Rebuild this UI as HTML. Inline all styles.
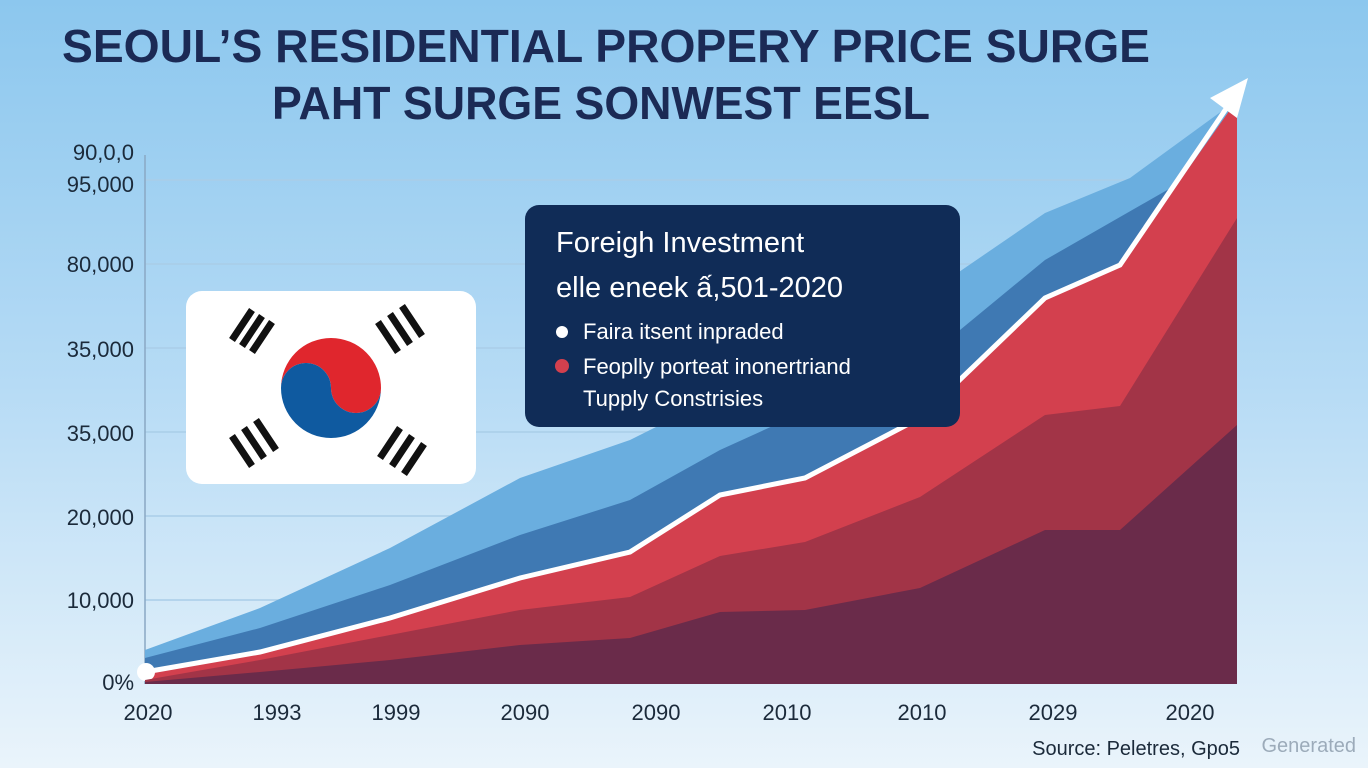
<!DOCTYPE html>
<html><head><meta charset="utf-8"><style>
body{margin:0;width:1368px;height:768px;overflow:hidden;font-family:"Liberation Sans",sans-serif;}
</style></head><body>
<svg width="1368" height="768" viewBox="0 0 1368 768" xmlns="http://www.w3.org/2000/svg">
<defs><linearGradient id="bg" x1="0" y1="0" x2="0" y2="1">
<stop offset="0" stop-color="#8cc7ee"/><stop offset="0.5" stop-color="#b6dbf5"/><stop offset="1" stop-color="#eaf4fb"/></linearGradient></defs>
<rect width="1368" height="768" fill="url(#bg)"/>
<g stroke="#a9cde8" stroke-width="1.5">
<line x1="145" y1="180" x2="1237" y2="180"/><line x1="145" y1="264" x2="1237" y2="264"/>
<line x1="145" y1="348" x2="1237" y2="348"/><line x1="145" y1="432" x2="1237" y2="432"/>
<line x1="145" y1="516" x2="1237" y2="516"/><line x1="145" y1="600" x2="1237" y2="600"/>
</g>
<line x1="145" y1="155" x2="145" y2="684" stroke="#8aa8c4" stroke-width="1.5"/>
<g font-weight="bold" fill="#1b2a55">
<text x="62" y="62" font-size="46" textLength="1088" lengthAdjust="spacingAndGlyphs">SEOUL’S RESIDENTIAL PROPERY PRICE SURGE</text>
<text x="272" y="119" font-size="46" textLength="658" lengthAdjust="spacingAndGlyphs">PAHT SURGE SONWEST EESL</text>
</g>
<g font-size="22" fill="#1b2a3a" text-anchor="end">
<text x="134" y="160">90,0,0</text><text x="134" y="192">95,000</text>
<text x="134" y="272">80,000</text><text x="134" y="357">35,000</text>
<text x="134" y="441">35,000</text><text x="134" y="525">20,000</text>
<text x="134" y="608">10,000</text><text x="134" y="690">0%</text>
</g>
<polygon fill="#6aaedf" points="145,684 145,650 260,608 390,548 520,478 630,440 720,395 830,345 940,285 1045,213 1130,178 1237,100 1237,684"/>
<polygon fill="#3f79b3" points="145,684 145,658 260,628 390,585 520,535 630,500 720,450 830,400 960,330 1045,260 1237,150 1237,684"/>
<polygon fill="#d3404e" points="145,684 145,672 260,652 390,618 520,578 630,552 720,495 805,478 920,418 1045,298 1120,265 1237,100 1237,684"/>
<polyline fill="none" stroke="#fff" stroke-width="5" points="145,672 260,652 390,618 520,578 630,552 720,495 805,478 920,418 1045,298 1120,265 1232,100"/>
<polygon fill="#fff" points="1248,78 1210,98 1237,118"/>
<circle cx="146" cy="672" r="9" fill="#fff"/>
<polygon fill="#a23447" points="145,684 145,680 260,660 390,635 520,610 630,597 720,556 805,542 920,497 1045,415 1120,406 1237,218 1237,684"/>
<polygon fill="#6a2b4a" points="145,684 145,682 260,672 390,660 520,645 630,638 720,612 805,610 920,588 1045,530 1120,530 1237,425 1237,684"/>
<g font-size="22" fill="#1b2a3a" text-anchor="middle">
<text x="148" y="720">2020</text><text x="277" y="720">1993</text><text x="396" y="720">1999</text>
<text x="525" y="720">2090</text><text x="656" y="720">2090</text><text x="787" y="720">2010</text>
<text x="922" y="720">2010</text><text x="1053" y="720">2029</text><text x="1190" y="720">2020</text>
</g>
<text x="1240" y="755" font-size="20" fill="#1b2a3a" text-anchor="end">Source: Peletres, Gpo5</text>
<text x="1356" y="752" font-size="20" fill="#8a9aaa" text-anchor="end" opacity="0.8">Generated</text>
<rect x="186" y="291" width="290" height="193" rx="16" fill="#fff"/>
<path d="M281,388 a50,50 0 0 1 100,0 a25,25 0 0 1 -50,0 a25,25 0 0 0 -50,0z" fill="#e0262d"/>
<path d="M281,388 a50,50 0 0 0 100,0 a25,25 0 0 1 -50,0 a25,25 0 0 0 -50,0z" fill="#0f5aa0"/>
<g stroke="#111" stroke-width="7">
<path d="M232,340 l20,-30 M242,346 l20,-30 M252,352 l20,-30"/>
<path d="M378,322 l20,30 M390,314 l20,30 M402,306 l20,30"/>
<path d="M232,436 l20,30 M244,428 l20,30 M256,420 l20,30"/>
<path d="M380,458 l20,-30 M392,466 l20,-30 M404,474 l20,-30"/>
</g>
<rect x="525" y="205" width="435" height="222" rx="14" fill="#102c57"/>
<g fill="#fff" font-size="29"><text x="556" y="252">Foreigh Investment</text><text x="556" y="297">elle eneek ấ,501-2020</text></g>
<circle cx="562" cy="332" r="6" fill="#fff"/><circle cx="562" cy="366" r="7" fill="#d3404e"/>
<g fill="#fff" font-size="22"><text x="583" y="339">Faira itsent inpraded</text><text x="583" y="374">Feoplly porteat inonertriand</text><text x="583" y="406">Tupply Constrisies</text></g>
</svg>
</body></html>
